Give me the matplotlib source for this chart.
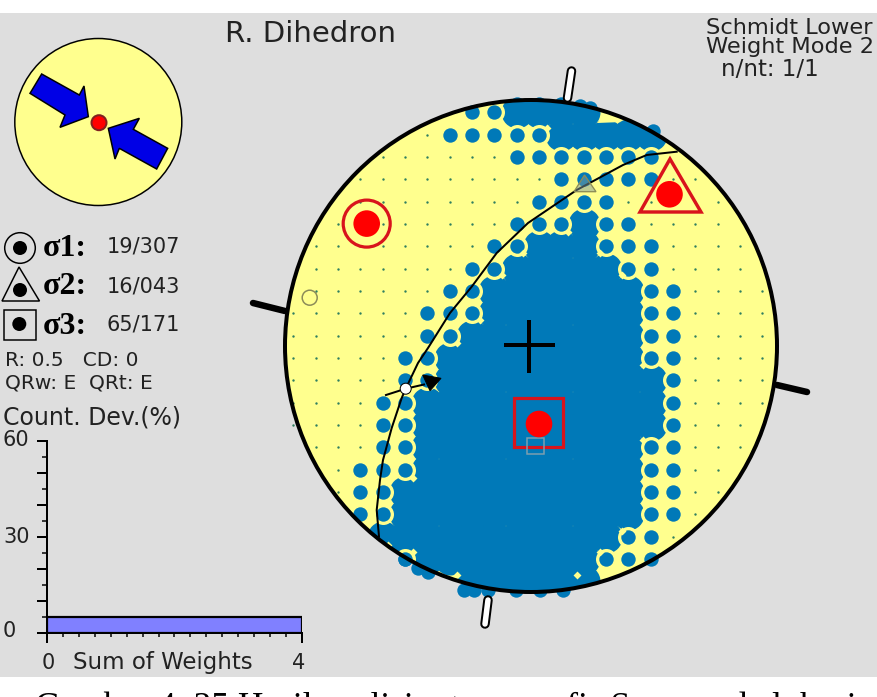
import matplotlib
matplotlib.use("Agg")
import matplotlib.pyplot as plt
from matplotlib.patches import Circle, Polygon, Rectangle
import numpy as np

W, H = 878, 697
BG = "#DEDEDE"; YEL = "#FFFF8E"; BLUE = "#0079B8"; DOT = "#2E7F60"; RED = "#FF0000"; FRAME = "#D8141C"
FONT = "DejaVu Sans"

# density grid: '.' small dot, 'o' separate count dot, '#' solid area
grid_x0, grid_y0, grid_step = 293.3, 112.3, 22.33
grid_rows = [
    "        oo####        ",
    "      .ooooo#####     ",
    "    ......ooooooo     ",
    "   .........ooooo..   ",
    "   ........oooo.....  ",
    "  ........ooo#oo....  ",
    " ........oo###ooo.... ",
    " .......oo#####oo.... ",
    " ......oo#######oo....",
    "......ooo#######oo....",
    "......oo########oo....",
    ".....oo#########oo....",
    ".....oo##########o....",
    "....oo###########o....",
    "....oo###########o... ",
    " ...oo##########oo... ",
    "  .ooo##########oo..  ",
    "  .oo###########oo..  ",
    "   oo###########oo.   ",
    "    ###########oo.    ",
    "     o########ooo     ",
    "        ######        ",
]
overflow_x = [517, 539, 561, 580, 590, 653, 405, 418, 428, 464, 474, 488, 516, 540, 563]
overflow_y = [104, 104, 104, 106, 108, 131, 559, 568, 572, 590, 590, 590, 590, 590, 590]
fleck_x = [547, 523, 502, 480, 457, 568, 600, 622, 643, 643, 622, 600, 413, 413, 577, 457, 388]
fleck_y = [128, 253, 275, 320, 343, 232, 253, 275, 365, 440, 531, 552, 478, 552, 575, 575, 545]

# stereonet
net_cx, net_cy, net_r = 531, 346, 246
plane_x = [379, 376.7, 380, 383, 391.7, 401.7, 405.7, 418, 428, 450, 471.7, 496.7, 528, 576.7, 623, 646.7, 676.7]
plane_y = [536.7, 510, 480, 460, 428, 398, 388.7, 363, 348, 313, 286.7, 253, 223, 190, 165, 155, 151.7]

# histogram
hist_counts = [5]
hist_edges = [0, 4]

fig = plt.figure(figsize=(W / 100, H / 100), dpi=100, facecolor="white")
ax = fig.add_axes([0, 0, 1, 1])
ax.set_xlim(0, W); ax.set_ylim(H, 0); ax.axis("off")
px = lambda r: (2 * r * 0.72) ** 2
lw = lambda p: p * 0.72

ax.add_patch(Rectangle((0, 13), W, 664, fc=BG, ec="none", zorder=0))

def nodes(ch):
    xs, ys = [], []
    for j, row in enumerate(grid_rows):
        for i, c in enumerate(row):
            if c == ch:
                xs.append(grid_x0 + i * grid_step); ys.append(grid_y0 + j * grid_step)
    return xs, ys

ax.scatter(overflow_x, overflow_y, s=px(7.2), c=BLUE, linewidths=0, zorder=1.5)
ax.add_patch(Circle((net_cx, net_cy), net_r, fc=YEL, ec="none", zorder=1.6))
sx, sy = nodes("#")
solid = ax.scatter(sx, sy, s=px(16), c=BLUE, linewidths=0, zorder=2)
solid.set_clip_path(Circle((net_cx, net_cy), net_r, transform=ax.transData))
ox, oy = nodes("o")
halo = ax.scatter(ox, oy, s=px(10.5), c=YEL, linewidths=0, zorder=3)
halo.set_clip_path(Circle((net_cx, net_cy), net_r, transform=ax.transData))
ax.scatter(ox, oy, s=px(7.2), c=BLUE, linewidths=0, zorder=4)
dx, dy = nodes(".")
ax.scatter(dx, dy, s=px(1.2), c=DOT, linewidths=0, zorder=4)
ax.scatter(fleck_x, fleck_y, s=px(2.8), c=YEL, marker="D", linewidths=0, zorder=4)
ax.add_patch(Polygon([(597, 123), (603, 117), (622, 122)], fc=YEL, ec="none", zorder=4))

# primitive circle and ticks
ax.add_patch(Circle((net_cx, net_cy), net_r, fc="none", ec="black", lw=lw(4), zorder=6))
ax.plot([253, 285], [303, 311], color="black", lw=lw(6.5), solid_capstyle="round", zorder=6)
ax.plot([777, 807], [385, 392], color="black", lw=lw(6.5), solid_capstyle="round", zorder=6)
for x0, y0, x1, y1 in [(571.5, 71, 567.5, 98), (488, 600, 485, 624)]:
    ax.plot([x0, x1], [y0, y1], color="black", lw=lw(9.5), solid_capstyle="round", zorder=7)
    ax.plot([x0, x1], [y0, y1], color="white", lw=lw(5.5), solid_capstyle="round", zorder=8)

# plane, striation
ax.plot(plane_x, plane_y, color="black", lw=lw(2), zorder=6)
ax.plot([386, 405.7, 424], [395, 388.7, 384.5], color="black", lw=lw(2), zorder=6)
ax.add_patch(Polygon([(422.7, 375), (441, 378.3), (430, 390.7)], fc="black", ec="black", lw=lw(1), zorder=6))
ax.add_patch(Circle((405.7, 388.7), 5.5, fc="white", ec="black", lw=lw(1), zorder=7))
ax.plot([504, 555], [345, 345], color="black", lw=lw(4), zorder=6, solid_capstyle="butt")
ax.plot([529, 529], [320, 373], color="black", lw=lw(4), zorder=6, solid_capstyle="butt")

# sigma symbols
ax.add_patch(Circle((309.7, 297.7), 7.5, fc="none", ec="#8B8B58", lw=lw(1.5), zorder=6))
ax.add_patch(Polygon([(574, 191.7), (596, 191.7), (584.5, 175)], fc=(0.5, 0.6, 0.6, 0.5), ec="#8B8B58", lw=lw(1.3), zorder=6))
ax.add_patch(Rectangle((526.7, 437.7), 17.3, 16.6, fc="none", ec="#7F9FAE", lw=lw(1.5), zorder=9))
ax.add_patch(Circle((366.7, 223.6), 23.5, fc="none", ec=FRAME, lw=lw(3.2), zorder=8))
ax.add_patch(Polygon([(670, 159), (701, 212), (640, 212)], fc="none", ec=FRAME, lw=lw(3.4), joinstyle="miter", zorder=8))
ax.add_patch(Rectangle((514.5, 398), 49, 49, fc="none", ec=FRAME, lw=lw(3.2), zorder=8))
for cx, cy in [(366.7, 223.6), (669.5, 194.3), (539, 424)]:
    ax.add_patch(Circle((cx, cy), 13.3, fc=RED, ec="none", zorder=9))

# beach-ball inset
ax.add_patch(Circle((98.3, 122), 83.5, fc=YEL, ec="black", lw=lw(1.5), zorder=2))
arrow1 = np.array([(125, 72), (238, 135), (252, 108), (265, 200), (180, 232), (195, 195), (90, 130)], float)
arrow2 = np.array([(503, 295), (400, 238), (418, 205), (325, 235), (345, 327), (358, 295), (470, 357)], float)
for a in (arrow1, arrow2):
    ax.add_patch(Polygon(a / 3 + [0, 50], fc="#0000E6", ec="black", lw=lw(1.5), zorder=3))
ax.add_patch(Circle((99, 122.7), 7.5, fc=RED, ec="#802020", lw=lw(2), zorder=3))

# legend symbols
ax.add_patch(Circle((20, 248), 15.3, fc="none", ec="black", lw=lw(1.5), zorder=3))
ax.add_patch(Polygon([(19, 267), (39.5, 301), (2, 301)], fc="none", ec="black", lw=lw(1.5), zorder=3))
ax.add_patch(Rectangle((4.5, 309.5), 32, 30.5, fc="none", ec="black", lw=lw(1.5), zorder=3))
for cx, cy in [(20, 248), (20, 290), (19.3, 324)]:
    ax.add_patch(Circle((cx, cy), 7, fc="black", ec="none", zorder=3))

def T(x, y, s, size, **kw):
    kw.setdefault("family", FONT); kw.setdefault("color", "#222222")
    kw.setdefault("va", "center"); kw.setdefault("ha", "left")
    ax.text(x, y, s, fontsize=size, zorder=10, **kw)

T(225, 34, "R. Dihedron", 21)
T(706, 28, "Schmidt Lower", 16.2)
T(706, 47, "Weight Mode 2", 16.2)
T(721, 70, "n/nt: 1/1", 16.5)
for y, name, val in [(248, "σ1:", "19/307"), (287, "σ2:", "16/043"), (326, "σ3:", "65/171")]:
    T(43, y, name, 23, family="Liberation Serif", weight="bold", color="black")
    T(107, y - 1, val, 15)
T(5, 361, "R: 0.5   CD: 0", 14.5)
T(5, 383, "QRw: E  QRt: E", 14.5)
T(3, 417, "Count. Dev.(%)", 17)
T(3, 440, "60", 15); T(3, 537, "30", 15); T(3, 631, "0", 15)
T(42, 663, "0", 15); T(73, 663, "Sum of Weights", 16.5); T(292, 663, "4", 15)
ax.text(35, 717, "Gambar 4. 35 Hasil analisis stereografis Sesar pada lokasi", fontsize=25.5,
        family="Liberation Serif", color="black", ha="left", va="baseline", zorder=10)

# histogram
hax = fig.add_axes([47 / W, 1 - 633 / H, 255 / W, 192 / H], facecolor="none")
hax.bar(hist_edges[0], hist_counts[0], width=hist_edges[1] - hist_edges[0], align="edge",
        color="#8080FF", edgecolor="black", linewidth=lw(2.2))
hax.set_xlim(0, 4); hax.set_ylim(0, 60)
for s in ("top", "right"):
    hax.spines[s].set_visible(False)
for s in ("left", "bottom"):
    hax.spines[s].set_linewidth(lw(2))
hax.set_xticks([0, 4]); hax.set_xticklabels([])
hax.set_xticks(np.arange(0, 4.01, 0.25), minor=True)
hax.set_yticks(np.arange(0, 61, 10)); hax.set_yticklabels([])
hax.set_yticks(np.arange(0, 61, 5), minor=True)
hax.tick_params(axis="x", which="major", length=lw(10), width=lw(2))
hax.tick_params(axis="x", which="minor", length=lw(4), width=lw(1.5))
hax.tick_params(axis="y", which="major", length=lw(10), width=lw(2))
hax.tick_params(axis="y", which="minor", length=lw(5), width=lw(1.5))

fig.savefig("out.png", dpi=100)
